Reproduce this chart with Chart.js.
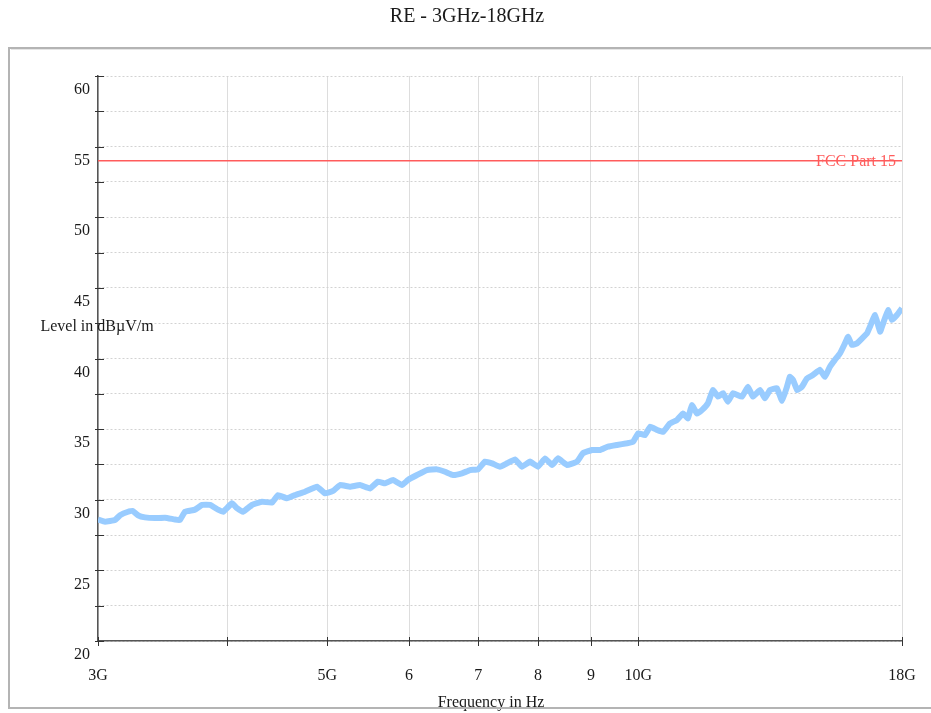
<!DOCTYPE html>
<html>
<head>
<meta charset="utf-8">
<script src="https://cdn.jsdelivr.net/npm/chart.js@4/dist/chart.umd.min.js"></script>
<style>
  html, body { margin: 0; padding: 0; background: #fff; }
  #wrap { position: relative; width: 931px; height: 713px; overflow: hidden; }
  canvas { display: block; }
</style>
</head>
<body>
<div id="wrap"><canvas id="c" width="931" height="713"></canvas></div>
<script>
// ---- Data ----
const chartTitle = 'RE - 3GHz-18GHz';
const yAxisTitle = 'Level in dBµV/m';
const xAxisTitle = 'Frequency in Hz';
const limitName = 'FCC Part 15';
const limitLevel = 54;              // dBµV/m
const limitFreqGHz = [3, 18];

const xTickGHz = [3, 4, 5, 6, 7, 8, 9, 10, 18];
const xTickLabels = ['3G', '', '5G', '6', '7', '8', '9', '10G', '18G'];
const yMin = 20, yMax = 60, yStep = 2.5, yLabelStep = 5;

const freqGHz = [
  3.000, 3.047, 3.116, 3.151, 3.208, 3.243, 3.280, 3.331, 3.406, 3.483,
  3.562, 3.601, 3.642, 3.724, 3.783, 3.851, 3.920, 3.964, 4.044, 4.089,
  4.144, 4.228, 4.324, 4.421, 4.480, 4.571, 4.654, 4.759, 4.888, 4.975,
  5.065, 5.144, 5.260, 5.379, 5.500, 5.599, 5.687, 5.789, 5.907, 5.986,
  6.108, 6.245, 6.386, 6.501, 6.618, 6.752, 6.873, 6.997, 7.107, 7.219,
  7.348, 7.464, 7.598, 7.718, 7.857, 7.998, 8.124, 8.252, 8.363, 8.532,
  8.724, 8.842, 9.021, 9.183, 9.348, 9.537, 9.752, 9.884, 10.00, 10.15,
  10.27, 10.43, 10.57, 10.73, 10.90, 11.05, 11.17, 11.27, 11.40, 11.53,
  11.68, 11.81, 11.95, 12.08, 12.21, 12.35, 12.60, 12.77, 12.91, 13.12,
  13.26, 13.41, 13.62, 13.78, 13.93, 14.02, 14.12, 14.25, 14.40, 14.57,
  14.76, 14.99, 15.16, 15.33, 15.50, 15.68, 15.85, 15.96, 16.10, 16.28,
  16.47, 16.65, 16.76, 16.95, 17.14, 17.26, 17.45, 17.60, 17.80, 18.00
];
const levelDb = [
  28.60, 28.45, 28.57, 28.90, 29.15, 29.20, 28.90, 28.75, 28.70, 28.73,
  28.60, 28.57, 29.15, 29.30, 29.63, 29.63, 29.30, 29.15, 29.75, 29.40,
  29.15, 29.63, 29.86, 29.80, 30.33, 30.10, 30.33, 30.57, 30.92, 30.45,
  30.62, 31.04, 30.92, 31.04, 30.80, 31.28, 31.16, 31.40, 31.04, 31.40,
  31.75, 32.10, 32.15, 31.98, 31.75, 31.87, 32.10, 32.15, 32.70, 32.58,
  32.34, 32.58, 32.86, 32.34, 32.70, 32.34, 32.93, 32.46, 32.93, 32.46,
  32.70, 33.30, 33.52, 33.52, 33.76, 33.88, 34.00, 34.10, 34.70, 34.58,
  35.17, 34.94, 34.80, 35.40, 35.64, 36.10, 35.76, 36.70, 36.10, 36.36,
  36.83, 37.77, 37.30, 37.54, 36.94, 37.54, 37.30, 38.00, 37.30, 37.77,
  37.18, 37.77, 37.89, 37.00, 38.00, 38.70, 38.48, 37.77, 38.00, 38.60,
  38.83, 39.20, 38.70, 39.42, 39.90, 40.37, 41.07, 41.54, 40.96, 41.07,
  41.43, 41.78, 42.25, 43.08, 41.90, 42.49, 43.43, 42.73, 43.08, 43.55
];

// ---- Styling ----
const SERIF = '"Liberation Serif", "Times New Roman", serif';
const traceColor = '#99ccff';
const limitColor = '#ff5c5c';
const textColor = '#1a1a1a';
const axisColor = '#555555';

const G = 1e9;
const traceData = freqGHz.map((f, i) => ({ x: f * G, y: levelDb[i] }));
const limitData = limitFreqGHz.map(f => ({ x: f * G, y: limitLevel }));

const decorPlugin = {
  id: 'decor',
  beforeDraw(chart) {
    const ctx = chart.ctx;
    ctx.save();
    ctx.fillStyle = '#fff';
    ctx.fillRect(0, 0, chart.width, chart.height);
    // title
    ctx.fillStyle = textColor;
    ctx.font = '20px ' + SERIF;
    ctx.textAlign = 'center';
    ctx.textBaseline = 'middle';
    ctx.fillText(chartTitle, 467, 17);
    ctx.restore();
  },
  afterDraw(chart) {
    const ctx = chart.ctx;
    const xs = chart.scales.x, ys = chart.scales.y;
    const area = chart.chartArea;
    ctx.save();
    // cross tick marks
    ctx.strokeStyle = '#333';
    ctx.lineWidth = 1;
    ctx.beginPath();
    ys.ticks.forEach(t => {
      const p = Math.round(ys.getPixelForValue(t.value)) + 0.5;
      ctx.moveTo(area.left - 3, p);
      ctx.lineTo(area.left + 6, p);
    });
    xs.ticks.forEach(t => {
      const p = Math.round(xs.getPixelForValue(t.value)) + 0.5;
      ctx.moveTo(p, area.bottom - 4);
      ctx.lineTo(p, area.bottom + 5);
    });
    ctx.stroke();
    // limit label
    ctx.fillStyle = limitColor;
    ctx.font = '16px ' + SERIF;
    ctx.textAlign = 'right';
    ctx.textBaseline = 'middle';
    ctx.fillText(limitName, area.right - 6, ys.getPixelForValue(limitLevel) + 1);
    // axis titles
    ctx.fillStyle = textColor;
    ctx.font = '16px ' + SERIF;
    ctx.textAlign = 'center';
    ctx.fillText(yAxisTitle, area.left - 1, 327);
    ctx.fillText(xAxisTitle, 491, 703);
    // frame
    ctx.strokeStyle = '#b4b4b4';
    ctx.lineWidth = 2;
    ctx.strokeRect(9, 48, 960, 660);
    ctx.strokeStyle = '#e6e6e6';
    ctx.lineWidth = 1;
    ctx.beginPath();
    ctx.moveTo(11, 49.5); ctx.lineTo(931, 49.5);
    ctx.stroke();
    ctx.restore();
  }
};

new Chart(document.getElementById('c'), {
  type: 'line',
  data: {
    datasets: [
      {
        label: limitName,
        data: limitData,
        borderColor: limitColor,
        borderWidth: 1.5,
        pointRadius: 0,
        tension: 0
      },
      {
        label: 'Trace',
        data: traceData,
        borderColor: traceColor,
        borderWidth: 6,
        pointRadius: 0,
        tension: 0.1,
        borderJoinStyle: 'miter',
        borderCapStyle: 'butt'
      }
    ]
  },
  options: {
    responsive: false,
    animation: false,
    events: [],
    layout: { padding: { left: 0, right: 29, top: 76, bottom: 0 } },
    plugins: { legend: { display: false }, title: { display: false }, tooltip: { enabled: false } },
    scales: {
      x: {
        type: 'logarithmic',
        min: 3 * G,
        max: 18 * G,
        afterBuildTicks(scale) {
          scale.ticks = xTickGHz.map(v => ({ value: v * G }));
        },
        afterFit(scale) {
          scale.height = 72;
          scale.paddingLeft = 0;
          scale.paddingRight = 0;
        },
        ticks: {
          autoSkip: false,
          maxRotation: 0,
          padding: 25,
          color: textColor,
          font: { family: SERIF, size: 16 },
          callback(value, index) { return xTickLabels[index]; }
        },
        grid: { color: '#dddddd', lineWidth: 1, drawTicks: false },
        border: { display: true, color: axisColor, width: 1.5 }
      },
      y: {
        type: 'linear',
        min: yMin,
        max: yMax,
        afterFit(scale) {
          scale.width = 98;
          scale.paddingTop = 0;
          scale.paddingBottom = 0;
        },
        ticks: {
          stepSize: yStep,
          padding: 8,
          labelOffset: 14,
          color: textColor,
          font: { family: SERIF, size: 16 },
          callback(value) { return value % yLabelStep === 0 ? String(value) : ''; }
        },
        grid: { color: '#d2d2d2', lineWidth: 1, drawTicks: false },
        border: { display: true, color: axisColor, width: 1.5, dash: [2, 2] }
      }
    }
  },
  plugins: [decorPlugin]
});
</script>
</body>
</html>
